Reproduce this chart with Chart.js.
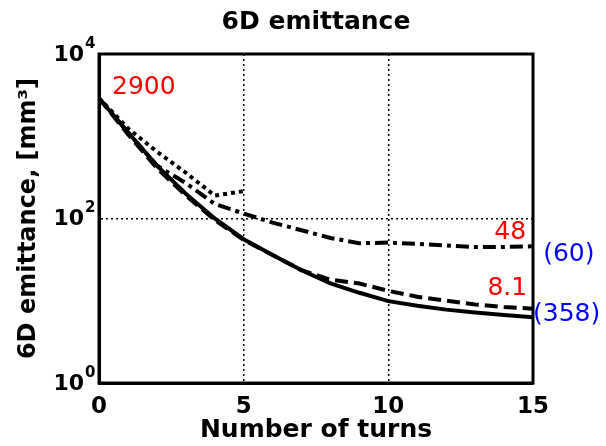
<!DOCTYPE html>
<html>
<head>
<meta charset="utf-8">
<script src="https://cdn.jsdelivr.net/npm/chart.js@4.4.1/dist/chart.umd.min.js"></script>
<style>
  html, body { margin: 0; padding: 0; background: #fff; }
</style>
</head>
<body>
<canvas id="myChart" width="606" height="446"></canvas>
<script>
/* ---------------------------- Data ------------------------------------*/

// number of turns
const turns = [0, 1, 2, 3, 4, 5, 6, 7, 8, 9, 10, 11, 12, 13, 14, 15];
const turnsShort = [0, 1, 2, 3, 4, 5];

// 6D emittance [mm^3]
const solidLine   = [2900, 1120, 440, 200, 100, 56, 36, 23.5, 16.3, 12.5, 9.9, 8.7, 7.8, 7.2, 6.7, 6.3];
const dashedLine  = [2900, 1060, 410, 190, 96, 55, 36, 23.5, 18, 16.2, 13.2, 11.2, 10, 9, 8.4, 8.0];
const dashDotLine = [2900, 1120, 440, 270, 150, 115, 89, 72, 58, 50, 51, 49, 47, 45, 45, 46];
const dottedLine  = [2900, 1250, 650, 360, 190, 215];

// axis ticks
const xTickValues = [0, 5, 10, 15];
const yTickValues = [1, 100, 10000];

// text notes next to the curves (data coordinates)
const noteText  = ['2900', '48', '8.1', '(60)', '(358)'];
const noteX     = [0.45, 14.76, 14.8, 15.35, 15.0];
const noteY     = [3900, 68, 13.9, 36, 6.9];
const noteColor = ['#ff0000', '#ff0000', '#ff0000', '#0000ff', '#0000ff'];
const noteAlign = ['left', 'right', 'right', 'left', 'left'];

/* ---------------------------- Helpers ------------------------------------*/

function toPoints(xs, ys) {
    return ys.map((v, i) => ({ x: xs[i], y: v }));
}

function lineSet(label, xs, ys, dash) {
    return {
        label: label,
        data: toPoints(xs, ys),
        borderColor: '#000',
        borderWidth: 4,
        borderDash: dash,
        pointRadius: 0,
        tension: 0,
        fill: false
    };
}

// plot box, y tick labels with exponents, notes
const decorations = {
    id: 'decorations',
    afterDraw(chart) {
        const ctx = chart.ctx;
        const area = chart.chartArea;
        const xs = chart.scales.x;
        const ys = chart.scales.y;
        ctx.save();

        // box around the plot
        ctx.strokeStyle = '#000';
        ctx.lineWidth = 3;
        ctx.setLineDash([]);
        ctx.strokeRect(area.left, area.top, area.right - area.left, area.bottom - area.top);

        // y tick labels 10^n
        ctx.fillStyle = '#000';
        ys.ticks.forEach((t) => {
            const py = ys.getPixelForValue(t.value);
            const exp = Math.round(Math.log10(t.value));
            ctx.font = 'bold 22px "DejaVu Sans"';
            ctx.textAlign = 'right';
            ctx.textBaseline = 'middle';
            ctx.fillText('10', area.left - 15, py + 1);
            ctx.font = 'bold 15px "DejaVu Sans"';
            ctx.textAlign = 'left';
            ctx.fillText(String(exp), area.left - 14, py - 10);
        });

        // notes
        ctx.font = '25px "DejaVu Sans"';
        ctx.textBaseline = 'middle';
        noteText.forEach((txt, i) => {
            ctx.fillStyle = noteColor[i];
            ctx.textAlign = noteAlign[i];
            ctx.fillText(txt, xs.getPixelForValue(noteX[i]), ys.getPixelForValue(noteY[i]));
        });
        ctx.restore();
    }
};

/* ---------------------------- Graph ------------------------------------*/

const ctx = document.getElementById('myChart').getContext('2d');
const myChart = new Chart(ctx, {
    type: 'line',
    data: {
        datasets: [
            lineSet('solid', turns, solidLine, []),
            lineSet('dashed', turns, dashedLine, [13, 6]),
            lineSet('dash-dot', turns, dashDotLine, [13, 5, 4, 5]),
            lineSet('dotted', turnsShort, dottedLine, [4, 4])
        ]
    },
    options: {
        responsive: false,
        animation: false,
        layout: { padding: { left: 0, right: 73, top: 0, bottom: 0 } },
        plugins: {
            legend: { display: false },
            tooltip: { enabled: false },
            title: {
                display: true,
                fullSize: false,
                text: '6D emittance',
                color: '#000',
                font: { family: 'DejaVu Sans', size: 25, weight: 'bold' },
                padding: { top: 7, bottom: 17 }
            }
        },
        scales: {
            x: {
                type: 'linear',
                min: 0,
                max: 15,
                afterBuildTicks: (scale) => { scale.ticks = xTickValues.map(v => ({ value: v })); },
                afterFit: (scale) => { scale.height = 63; },
                grid: { color: '#000', lineWidth: 1.5, drawTicks: false },
                border: { display: true, color: '#000', width: 3, dash: [2, 3] },
                ticks: {
                    color: '#000',
                    padding: 10,
                    maxRotation: 0,
                    font: { family: 'DejaVu Sans', size: 23, weight: 'bold' }
                },
                title: {
                    display: true,
                    text: 'Number of turns',
                    color: '#000',
                    font: { family: 'DejaVu Sans', size: 25, weight: 'bold' },
                    padding: { top: 0, bottom: 1 }
                }
            },
            y: {
                type: 'logarithmic',
                min: 1,
                max: 10000,
                afterBuildTicks: (scale) => { scale.ticks = yTickValues.map(v => ({ value: v })); },
                afterFit: (scale) => { scale.width = 99; },
                grid: { color: '#000', lineWidth: 1.5, drawTicks: false },
                border: { display: true, color: '#000', width: 3, dash: [2, 3] },
                ticks: { display: false },
                title: {
                    display: true,
                    text: '6D emittance, [mm³]',
                    color: '#000',
                    font: { family: 'DejaVu Sans', size: 24, weight: 'bold' },
                    padding: { top: 14, bottom: 0 }
                }
            }
        }
    },
    plugins: [decorations]
});
</script>
</body>
</html>
